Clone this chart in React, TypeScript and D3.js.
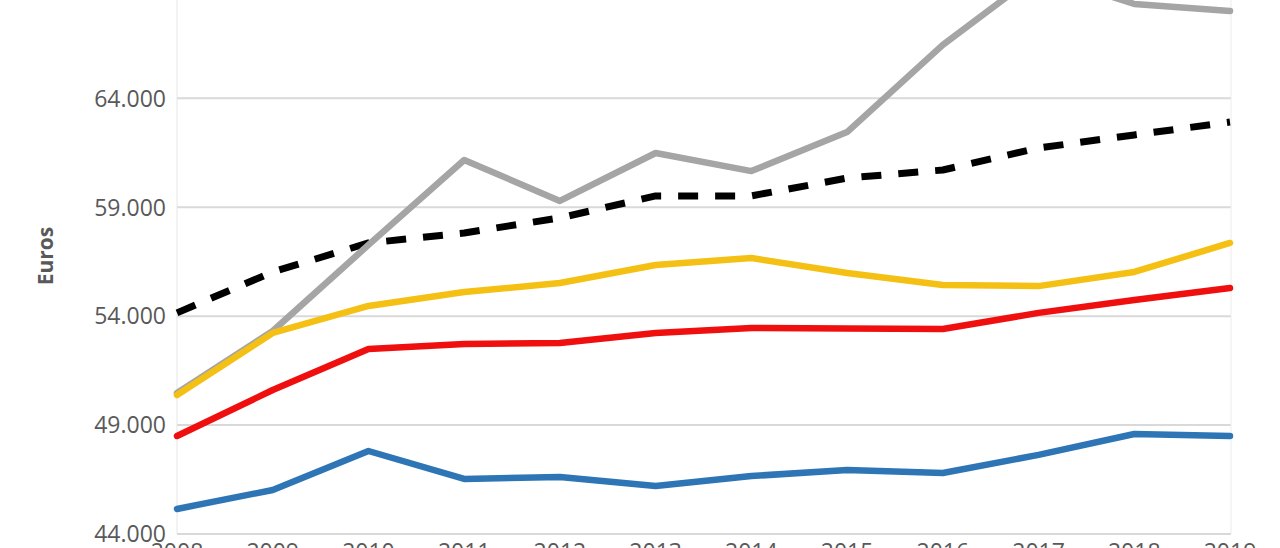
import React from "react";
import * as d3 from "d3";

const years = [2008, 2009, 2010, 2011, 2012, 2013, 2014, 2015, 2016, 2017, 2018, 2019];
const blueSeries = [45150, 46020, 47810, 46530, 46620, 46200, 46660, 46940, 46800, 47630, 48590, 48500];
const redSeries = [48500, 50610, 52490, 52720, 52770, 53230, 53460, 53430, 53410, 54150, 54740, 55290];
const yellowSeries = [50380, 53230, 54470, 55110, 55520, 56350, 56670, 55980, 55430, 55380, 56030, 57360];
const graySeries = [50470, 53320, 57270, 61170, 59290, 61490, 60660, 62450, 66450, 69750, 68330, 68010];
const blackSeries = [54150, 56030, 57360, 57820, 58510, 59520, 59520, 60340, 60710, 61720, 62320, 62910];
const yTicks = [44000, 49000, 54000, 59000, 64000, 69000];
const yLabel = "Euros";

const W = 1280;
const H = 548;

export default function App() {
  const x = d3.scalePoint<number>().domain(years).range([177, 1230]);
  const y = d3.scaleLinear().domain([44000, 69000]).range([534, -10.6]);
  const fmt = d3.formatLocale({ decimal: ",", thousands: ".", grouping: [3], currency: ["", "€"] }).format(",d");
  const line = d3
    .line<number>()
    .x((_, i) => x(years[i]) as number)
    .y((d) => y(d));

  // drawing order: black dashed at the back, then gray, then yellow on top
  const series = [
    { data: blackSeries, color: "#000000", width: 7, dash: "20 17" },
    { data: blueSeries, color: "#2E75B6", width: 6.5, dash: undefined },
    { data: redSeries, color: "#F00F0F", width: 6.5, dash: undefined },
    { data: graySeries, color: "#A5A5A5", width: 6.5, dash: undefined },
    { data: yellowSeries, color: "#F5C014", width: 6.5, dash: undefined },
  ];

  const font = "'Open Sans', 'DejaVu Sans', sans-serif";

  return (
    <svg
      width={W}
      height={H}
      style={{ position: "absolute", left: 0, top: 0, background: "#fff" }}
    >
      <rect x={0} y={0} width={W} height={H} fill="#fff" />
      {yTicks.map((t) => (
        <line key={"g" + t} x1={177} x2={1231} y1={y(t)} y2={y(t)} stroke="#D9D9D9" strokeWidth={2} />
      ))}
      <line x1={177} x2={177} y1={0} y2={534} stroke="#E6E6E6" strokeWidth={1} />
      <line x1={1231} x2={1231} y1={0} y2={534} stroke="#ECECEC" strokeWidth={1} />
      {yTicks.map((t) => (
        <text
          key={"t" + t}
          x={166}
          y={y(t)}
          dy="0.36em"
          textAnchor="end"
          fontFamily={font}
          fontSize={23}
          fill="#595959"
        >
          {fmt(t)}
        </text>
      ))}
      {years.map((yr) => (
        <text
          key={"x" + yr}
          x={x(yr)}
          y={560}
          textAnchor="middle"
          fontFamily={font}
          fontSize={23}
          fill="#595959"
        >
          {yr}
        </text>
      ))}
      <text
        transform="translate(53,256) rotate(-90)"
        textAnchor="middle"
        fontFamily={font}
        fontSize={21}
        fontWeight="bold"
        fill="#595959"
      >
        {yLabel}
      </text>
      {series.map((s, i) => (
        <path
          key={"s" + i}
          d={line(s.data) || ""}
          fill="none"
          stroke={s.color}
          strokeWidth={s.width}
          strokeDasharray={s.dash}
          strokeLinejoin="round"
          strokeLinecap={s.dash ? "butt" : "round"}
        />
      ))}
    </svg>
  );
}
